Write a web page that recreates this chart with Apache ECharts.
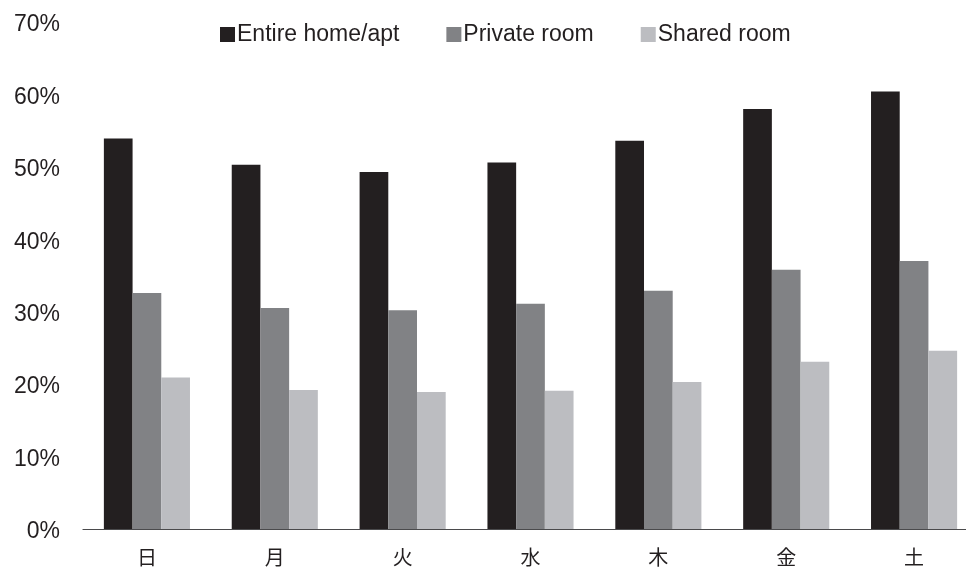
<!DOCTYPE html>
<html>
<head>
<meta charset="utf-8">
<script src="https://cdn.jsdelivr.net/npm/echarts@6/dist/echarts.min.js"></script>
<style>
  html, body { margin: 0; padding: 0; background: #ffffff; overflow: hidden; }
  /* the drawing surface is a bit wider than the window; the plot runs off the right edge */
  #chart { width: 980px; height: 567px; }
</style>
</head>
<body>
<div id="chart"></div>
<script>
// Share of listings by room type, per day of week (%)
const days = ['日', '月', '火', '水', '木', '金', '土'];
const seriesNames = ['Entire home/apt', 'Private room', 'Shared room'];
const entireHome = [53.9, 50.3, 49.3, 50.6, 53.6, 58.0, 60.4];
const privateRoom = [32.6, 30.5, 30.2, 31.1, 32.9, 35.8, 37.0];
const sharedRoom = [20.9, 19.2, 18.9, 19.1, 20.3, 23.1, 24.6];
const yTicks = [0, 10, 20, 30, 40, 50, 60, 70];

const colors = ['#231f20', '#818285', '#bcbdc1'];
const textColor = '#231f20';
const latin = '"Liberation Sans", Arial, sans-serif';

const chart = echarts.init(document.getElementById('chart'), null, { renderer: 'canvas' });

const values = [entireHome, privateRoom, sharedRoom];

chart.setOption({
  animation: false,
  backgroundColor: '#ffffff',
  color: colors,
  legend: {
    left: 215,
    top: 18,
    icon: 'rect',
    itemWidth: 15,
    itemHeight: 15,
    itemGap: 47,
    textStyle: { color: textColor, fontSize: 23, fontFamily: latin, padding: [0, 0, 0, -3] },
    data: seriesNames
  },
  grid: { left: 83, right: 2, top: 22, bottom: 38, containLabel: false },
  xAxis: {
    type: 'category',
    data: days,
    boundaryGap: true,
    axisLine: { show: true, lineStyle: { color: '#4a4a4c', width: 1.2 } },
    axisTick: { show: false },
    axisLabel: {
      color: textColor,
      fontSize: 20,
      margin: 18,
      fontFamily: '"Noto Sans CJK JP", sans-serif'
    }
  },
  yAxis: {
    type: 'value',
    min: yTicks[0],
    max: yTicks[yTicks.length - 1],
    interval: 10,
    axisLine: { show: false },
    axisTick: { show: false },
    splitLine: { show: false },
    axisLabel: {
      margin: 23,
      formatter: v => '{p|' + v + '%}',
      rich: {
        p: {
          color: textColor,
          fontSize: 23,
          fontFamily: latin,
          padding: [6, 0, 0, 0]
        }
      }
    }
  },
  series: seriesNames.map((name, i) => ({
    name,
    type: 'bar',
    data: values[i],
    barWidth: 28.7,
    barGap: '0%',
    itemStyle: { color: colors[i] }
  }))
});
</script>
</body>
</html>
